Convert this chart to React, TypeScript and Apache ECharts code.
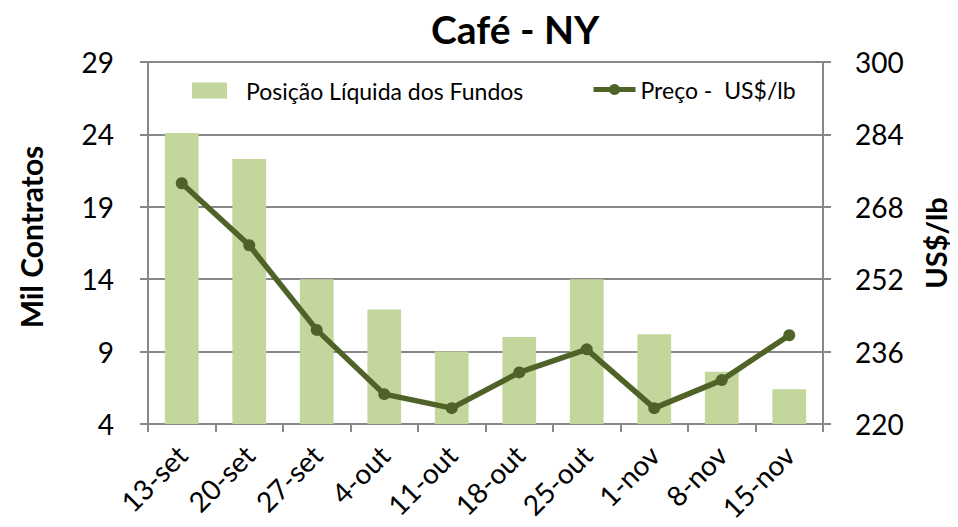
import React, { useEffect, useRef } from "react";
import * as echarts from "echarts";

const categories = ["13-set", "20-set", "27-set", "4-out", "11-out", "18-out", "25-out", "1-nov", "8-nov", "15-nov"];
const fundPositions = [24.1, 22.3, 14.0, 11.9, 9.0, 10.0, 14.0, 10.2, 7.6, 6.4];
const prices = [273.2, 259.5, 240.8, 226.6, 223.5, 231.4, 236.5, 223.5, 229.7, 239.6];
const leftTicks = { min: 4, max: 29, interval: 5 };
const rightTicks = { min: 220, max: 300, interval: 16 };

const FONT = "Lato, 'Open Sans', sans-serif";
const BAR_NAME = "Posição Líquida dos Fundos";
const LINE_NAME = "Preço -  US$/lb";

export default function App() {
  const ref = useRef<HTMLDivElement>(null);
  useEffect(() => {
    if (!ref.current) return;
    const chart = echarts.init(ref.current, undefined, { renderer: "svg" });
    chart.setOption({
      animation: false,
      backgroundColor: "#ffffff",
      title: {
        text: "Café - NY",
        left: 426,
        top: 4,
        textStyle: { fontFamily: FONT, fontWeight: "bold", fontSize: 39, color: "#000" },
      },
      legend: [
        {
          top: 74,
          left: 187,
          itemWidth: 35,
          itemHeight: 16,
          textStyle: { fontFamily: FONT, fontSize: 23, color: "#000", padding: [0, 0, 0, 14] },
          data: [{ name: BAR_NAME, icon: "rect" }],
        },
        {
          top: 73,
          left: 586,
          itemWidth: 42,
          itemHeight: 14,
          lineStyle: { width: 5, color: "#4F6228" },
          textStyle: { fontFamily: FONT, fontSize: 23, color: "#000", padding: [0, 0, 0, 0] },
          data: [{ name: LINE_NAME }],
        },
      ],
      grid: { left: 148, right: 129, top: 62, bottom: 103, containLabel: false },
      xAxis: {
        type: "category",
        data: categories,
        axisLine: { show: true, lineStyle: { color: "#888", width: 2 } },
        axisTick: { show: true, alignWithLabel: false, length: 8, lineStyle: { color: "#888", width: 2 } },
        axisLabel: { rotate: 45, fontFamily: FONT, fontSize: 28, color: "#000", margin: 26, interval: 0 },
      },
      yAxis: [
        {
          type: "value",
          min: leftTicks.min,
          max: leftTicks.max,
          interval: leftTicks.interval,
          name: "Mil Contratos",
          nameLocation: "middle",
          nameRotate: 90,
          nameGap: 102,
          nameTextStyle: { fontFamily: FONT, fontWeight: "bold", fontSize: 30, color: "#000", padding: [0, 0, 0, 12] },
          axisLine: { show: true, lineStyle: { color: "#888", width: 2 } },
          axisTick: { show: true, length: 8, inside: false, lineStyle: { color: "#888", width: 2 } },
          axisLabel: { fontFamily: FONT, fontSize: 28, color: "#000", margin: 34 },
          splitLine: { show: true, lineStyle: { color: "#888", width: 2 } },
        },
        {
          type: "value",
          min: rightTicks.min,
          max: rightTicks.max,
          interval: rightTicks.interval,
          name: "US$/lb",
          nameLocation: "middle",
          nameRotate: 90,
          nameGap: 98,
          nameTextStyle: { fontFamily: FONT, fontWeight: "bold", fontSize: 29, color: "#000" },
          axisLine: { show: true, lineStyle: { color: "#888", width: 2 } },
          axisTick: { show: true, length: 8, lineStyle: { color: "#888", width: 2 } },
          axisLabel: { fontFamily: FONT, fontSize: 28, color: "#000", margin: 32 },
          splitLine: { show: false },
        },
      ],
      series: [
        {
          name: BAR_NAME,
          type: "bar",
          yAxisIndex: 0,
          data: fundPositions,
          barWidth: "50%",
          itemStyle: { color: "#C3D69B" },
        },
        {
          name: LINE_NAME,
          type: "line",
          yAxisIndex: 1,
          data: prices,
          symbol: "circle",
          symbolSize: 12,
          lineStyle: { color: "#4F6228", width: 5.5 },
          itemStyle: { color: "#4F6228" },
        },
      ],
    });
    return () => chart.dispose();
  }, []);
  return <div ref={ref} style={{ width: 958, height: 527, marginLeft: -8, marginTop: -8 }} />;
}
